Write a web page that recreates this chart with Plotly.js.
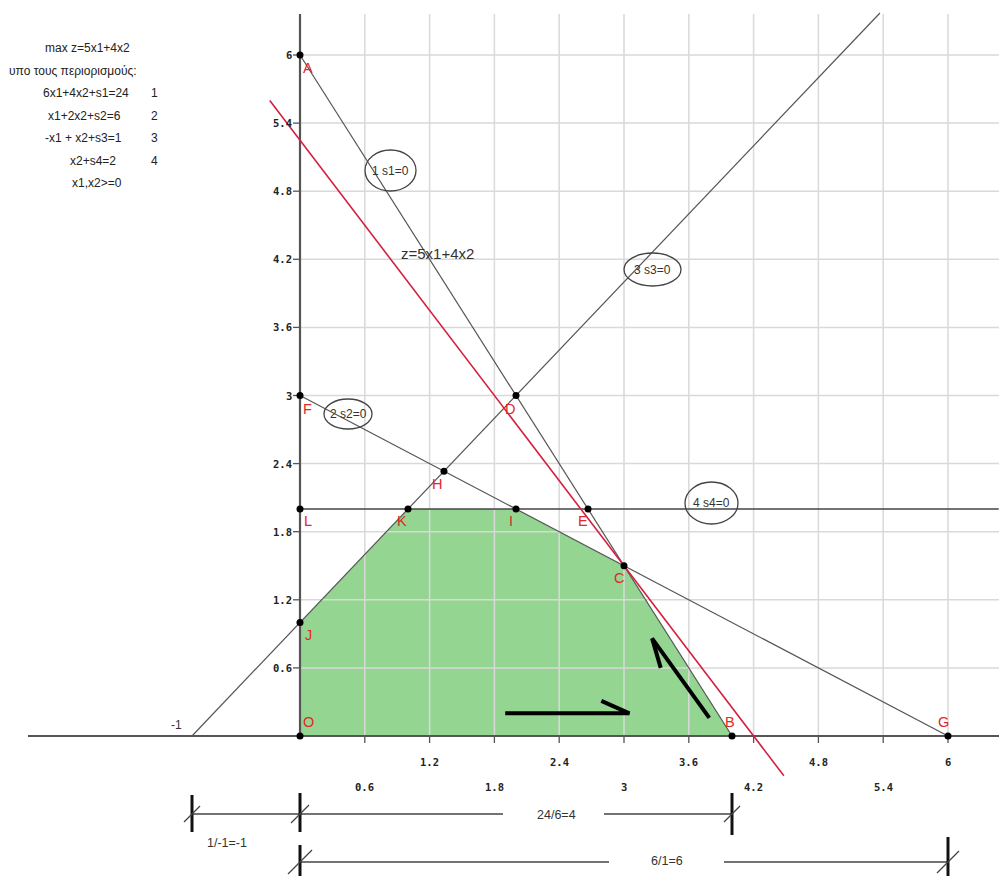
<!DOCTYPE html>
<html>
<head>
<meta charset="utf-8">
<script src="https://cdn.plot.ly/plotly-3.0.1.min.js"></script>
<style>html,body{margin:0;padding:0;background:#fff;}#chart{width:999px;height:876px;}</style>
</head>
<body>
<div id="chart"></div>
<script>
// ---------- data ----------
const tickValues = [0.6, 1.2, 1.8, 2.4, 3, 3.6, 4.2, 4.8, 5.4, 6];
const tickLabels = ['0.6', '1.2', '1.8', '2.4', '3', '3.6', '4.2', '4.8', '5.4', '6'];

const pointNames = ['A', 'F', 'D', 'H', 'L', 'K', 'I', 'E', 'C', 'J', 'O', 'B', 'G'];
const pointX = [0, 0, 2, 1.333, 0, 1, 2, 2.667, 3, 0, 0, 4, 6];
const pointY = [6, 3, 3, 2.333, 2, 2, 2, 2, 1.5, 1, 0, 0, 0];

const regionX = [0, 0, 1, 2, 3, 4, 0];
const regionY = [0, 1, 2, 2, 1.5, 0, 0];

const s1X = [0, 4], s1Y = [6, 0];          // 6x1+4x2=24
const s2X = [0, 6], s2Y = [3, 0];          // x1+2x2=6
const s3X = [-1, 5.37], s3Y = [0, 6.37];   // -x1+x2=1
const s4X = [0, 6.47], s4Y = [2, 2];       // x2=2
const objX = [-0.28, 4.48], objY = [5.6, -0.35]; // 5x1+4x2=21

const arrow1X = [1.9, 3.05, 2.79], arrow1Y = [0.2, 0.2, 0.31];
const arrow2X = [3.79, 3.26, 3.34], arrow2Y = [0.16, 0.86, 0.6];

const textLines = ['max z=5x1+4x2', 'υπο τους περιορισμούς:', '6x1+4x2+s1=24', 'x1+2x2+s2=6', '-x1 + x2+s3=1', 'x2+s4=2', 'x1,x2>=0'];
const textNums = ['', '', '1', '2', '3', '4', ''];

const ellipseLabels = ['1 s1=0', '2 s2=0', '3 s3=0', '4 s4=0'];

// ---------- pixel helpers for layout placement ----------
const OX = 300, OY = 736, SX = 108, SY = 113.5;
const X = p => (p - OX) / SX;
const Y = p => (OY - p) / SY;

const narrow = '"Liberation Sans", Arial, sans-serif';
const mono = '"DejaVu Sans Mono", monospace';
const nf = (size, color) => ({family: narrow, size: size, color: color});

const traces = [];
// feasible region
traces.push({x: regionX, y: regionY, mode: 'lines', fill: 'toself', fillcolor: 'rgb(148,213,146)',
  line: {width: 0, color: 'rgba(0,0,0,0)'}, hoverinfo: 'skip'});

// gridlines
const gx = [], gy = [];
tickValues.forEach(v => { gx.push(v, v, null); gy.push(0, Y(14), null); });
tickValues.forEach(v => { gx.push(0, X(999), null); gy.push(v, v, null); });
traces.push({x: gx, y: gy, mode: 'lines', line: {color: '#d9d9d9', width: 1.5}, hoverinfo: 'skip'});

// ticks
const tx = [], ty = [];
tickValues.forEach(v => { tx.push(v, v, null); ty.push(0, Y(743), null); });
tickValues.forEach(v => { tx.push(0, X(293), null); ty.push(v, v, null); });
traces.push({x: tx, y: ty, mode: 'lines', line: {color: '#555', width: 1.3}, hoverinfo: 'skip'});

// axes
traces.push({x: [X(28), X(999), null, 0, 0], y: [0, 0, null, 0, Y(14)], mode: 'lines',
  line: {color: '#555', width: 2.2}, hoverinfo: 'skip'});

// constraint lines
[[s1X, s1Y], [s2X, s2Y], [s3X, s3Y]].forEach(([xs, ys]) =>
  traces.push({x: xs, y: ys, mode: 'lines', line: {color: '#555', width: 1.2}, hoverinfo: 'skip'}));
traces.push({x: s4X, y: s4Y, mode: 'lines', line: {color: '#444', width: 1.6}, hoverinfo: 'skip'});

// objective
traces.push({x: objX, y: objY, mode: 'lines', line: {color: '#d4203f', width: 1.6}, hoverinfo: 'skip'});

// arrows
traces.push({x: arrow1X, y: arrow1Y, mode: 'lines', line: {color: '#000', width: 4}, hoverinfo: 'skip'});
traces.push({x: arrow2X, y: arrow2Y, mode: 'lines', line: {color: '#000', width: 4}, hoverinfo: 'skip'});

// points
traces.push({x: pointX, y: pointY, mode: 'markers', marker: {color: '#000', size: 7}, hoverinfo: 'skip'});

// ---------- annotations ----------
const ann = [];
const labelShift = {
  A: [8, -13], F: [7, -13], D: [-6, -13], H: [-7, -13], L: [8, -12], K: [-6, -12], I: [-5, -12],
  E: [-5, -12], C: [-5, -12], J: [8, -12], O: [8, 14], B: [-2, 14], G: [-5, 14]
};
pointNames.forEach((n, i) => {
  ann.push({x: pointX[i], y: pointY[i], text: n, showarrow: false, xshift: labelShift[n][0], yshift: labelShift[n][1],
    font: nf(14.5, '#e02828')});
});
// tick labels
tickValues.forEach((v, i) => {
  const row = i % 2 === 1 ? 762 : 787;
  ann.push({x: v, y: Y(row), text: tickLabels[i], showarrow: false,
    font: {family: mono, size: 10.5, color: '#222', weight: 'bold'}});
  ann.push({x: X(294), y: v, text: tickLabels[i], showarrow: false, xanchor: 'right',
    font: {family: mono, size: 10.5, color: '#222', weight: 'bold'}});
});
ann.push({x: X(176), y: Y(725), text: '-1', showarrow: false, font: nf(12, '#333')});
ann.push({x: X(437), y: Y(253), text: 'z=5x1+4x2', showarrow: false, font: nf(15, '#333')});

// text block
const blockY = [48, 71, 93, 116, 138, 161, 183];
const blockX = [87, 73, 86, 84, 83, 93, 97];
textLines.forEach((t, i) => {
  ann.push({x: X(blockX[i]), y: Y(blockY[i]), text: t, showarrow: false, font: nf(12, '#222')});
  if (textNums[i]) ann.push({x: X(154), y: Y(blockY[i]), text: textNums[i], showarrow: false, font: nf(12, '#222')});
});

// ellipses
const ell = [[365, 416, 150, 191], [324, 372, 399, 429], [624, 681, 253, 286], [685, 738, 482, 524]];
const shapes = [];
ell.forEach((e, i) => {
  shapes.push({type: 'circle', xref: 'x', yref: 'y', x0: X(e[0]), x1: X(e[1]), y0: Y(e[2]), y1: Y(e[3]),
    line: {color: '#444', width: 1.3}});
  ann.push({x: X((e[0] + e[1]) / 2), y: Y((e[2] + e[3]) / 2), text: ellipseLabels[i], showarrow: false,
    font: nf(12, '#333')});
});

// dimension lines
function seg(x0, y0, x1, y1, w, c) {
  shapes.push({type: 'line', xref: 'x', yref: 'y', x0: x0, y0: y0, x1: x1, y1: y1, line: {color: c || '#444', width: w || 1.3}});
}
const r1 = Y(814), r2 = Y(862);
seg(-1, r1, 0, r1); seg(0, r1, X(503), r1); seg(X(604), r1, 4, r1);
seg(0, r2, X(609), r2); seg(X(724), r2, 6, r2);
seg(-1, Y(795), -1, Y(832), 3, '#111');
seg(0, Y(793), 0, Y(832), 3, '#111');
seg(4, Y(793), 4, Y(835), 3, '#111');
seg(0, Y(845), 0, Y(876), 3, '#111');
seg(6, Y(837), 6, Y(876), 3, '#111');
[[-1, 814, 8], [0, 814, 9], [4, 814, 8], [0, 862, 12], [6, 862, 11]].forEach(([xv, py, d]) => {
  seg(xv - d / SX, Y(py + d), xv + d / SX, Y(py - d), 1.2, '#444');
});
ann.push({x: X(227), y: Y(843), text: '1/-1=-1', showarrow: false, font: nf(12.5, '#333')});
ann.push({x: X(556), y: Y(815), text: '24/6=4', showarrow: false, font: nf(12.5, '#333')});
ann.push({x: X(667), y: Y(861), text: '6/1=6', showarrow: false, font: nf(12.5, '#333')});

const layout = {
  width: 999, height: 876,
  margin: {l: 0, r: 0, t: 0, b: 0, pad: 0},
  paper_bgcolor: '#fff', plot_bgcolor: '#fff',
  showlegend: false, hovermode: false,
  xaxis: {range: [X(0), X(999)], visible: false, fixedrange: true},
  yaxis: {range: [Y(876), Y(0)], visible: false, fixedrange: true},
  annotations: ann,
  shapes: shapes
};
Plotly.newPlot('chart', traces, layout, {staticPlot: true, displayModeBar: false});
</script>
</body>
</html>
